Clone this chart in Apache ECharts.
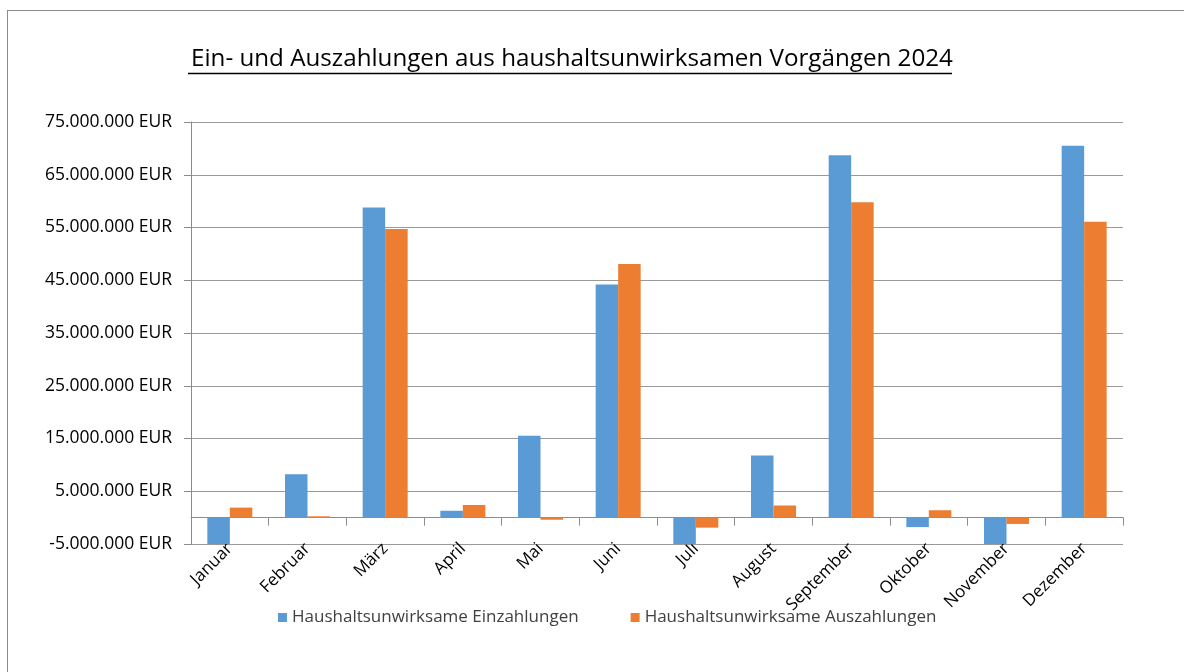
<!DOCTYPE html>
<html>
<head>
<meta charset="utf-8">
<script src="https://cdn.jsdelivr.net/npm/echarts@6/dist/echarts.min.js"></script>
<style>
  html, body { margin: 0; padding: 0; background: #fff; }
  #frame { position: absolute; left: 7px; top: 10px; width: 1200px; height: 700px; border: 1px solid #8c8c8c; pointer-events: none; }
  #chart { position: absolute; left: 0; top: 0; width: 1184px; height: 672px; }
</style>
</head>
<body>
<div id="chart"></div>
<div id="frame"></div>
<script>
// Monate
const months = ["Januar", "Februar", "März", "April", "Mai", "Juni", "Juli", "August", "September", "Oktober", "November", "Dezember"];

// Werte in EUR
const einzahlungen = [-5000000, 8200000, 58800000, 1300000, 15500000, 44200000, -5200000, 11800000, 68700000, -1800000, -5200000, 70500000];
const auszahlungen = [1900000, 250000, 54700000, 2400000, -400000, 48100000, -1900000, 2300000, 59800000, 1400000, -1200000, 56100000];

const seriesNames = ["Haushaltsunwirksame Einzahlungen", "Haushaltsunwirksame Auszahlungen"];
const titleText = "Ein- und Auszahlungen aus haushaltsunwirksamen Vorgängen 2024";

const yMin = -5000000;
const yMax = 75000000;
const yStep = 10000000;

const font = "'Open Sans', 'Noto Sans', sans-serif";

// 12.345.678 EUR
const formatEur = v => {
  const s = Math.abs(Math.round(v)).toString().replace(/\B(?=(\d{3})+(?!\d))/g, ".");
  return (v < 0 ? "-" : "") + s + " EUR";
};

const chart = echarts.init(document.getElementById("chart"), null, { renderer: "canvas" });

const option = {
  animation: false,
  title: {
    text: titleText,
    left: 186,
    top: 42,
    textStyle: { fontFamily: font, fontSize: 24.2, fontWeight: "normal", color: "#000" }
  },
  graphic: [
    {
      type: "line",
      shape: { x1: 188, y1: 73.5, x2: 952, y2: 73.5 },
      style: { stroke: "#000", lineWidth: 1.5 }
    }
  ],
  legend: {
    data: seriesNames,
    bottom: 41,
    left: 273,
    itemWidth: 9,
    itemHeight: 9,
    itemGap: 52,
    icon: "rect",
    textStyle: { fontFamily: font, fontSize: 17, color: "#404040" }
  },
  grid: {
    left: 191,
    right: 61,
    top: 122,
    bottom: 128,
    containLabel: false
  },
  xAxis: {
    type: "category",
    data: months,
    axisLine: { onZero: true, lineStyle: { color: "#8c8c8c", width: 1 } },
    axisTick: { show: true, length: 8, inside: false, lineStyle: { color: "#8c8c8c" } },
    axisLabel: {
      rotate: 45,
      interval: 0,
      margin: 2,
      fontFamily: font,
      fontSize: 17,
      color: "#000"
    }
  },
  yAxis: {
    type: "value",
    min: yMin,
    max: yMax,
    interval: yStep,
    axisLine: { show: true, lineStyle: { color: "#8c8c8c" } },
    axisTick: { show: true, length: 7, lineStyle: { color: "#8c8c8c" } },
    axisLabel: {
      formatter: formatEur,
      margin: 19,
      fontFamily: font,
      fontSize: 17.5,
      color: "#000"
    },
    splitLine: { show: true, lineStyle: { color: "#9a9a9a", width: 1 } }
  },
  series: [
    {
      name: seriesNames[0],
      type: "bar",
      data: einzahlungen,
      barWidth: 22.5,
      barGap: "0%",
      itemStyle: { color: "#5b9bd5" }
    },
    {
      name: seriesNames[1],
      type: "bar",
      data: auszahlungen,
      barWidth: 22.5,
      barGap: "0%",
      itemStyle: { color: "#ed7d31" }
    }
  ]
};

chart.setOption(option);
</script>
</body>
</html>
